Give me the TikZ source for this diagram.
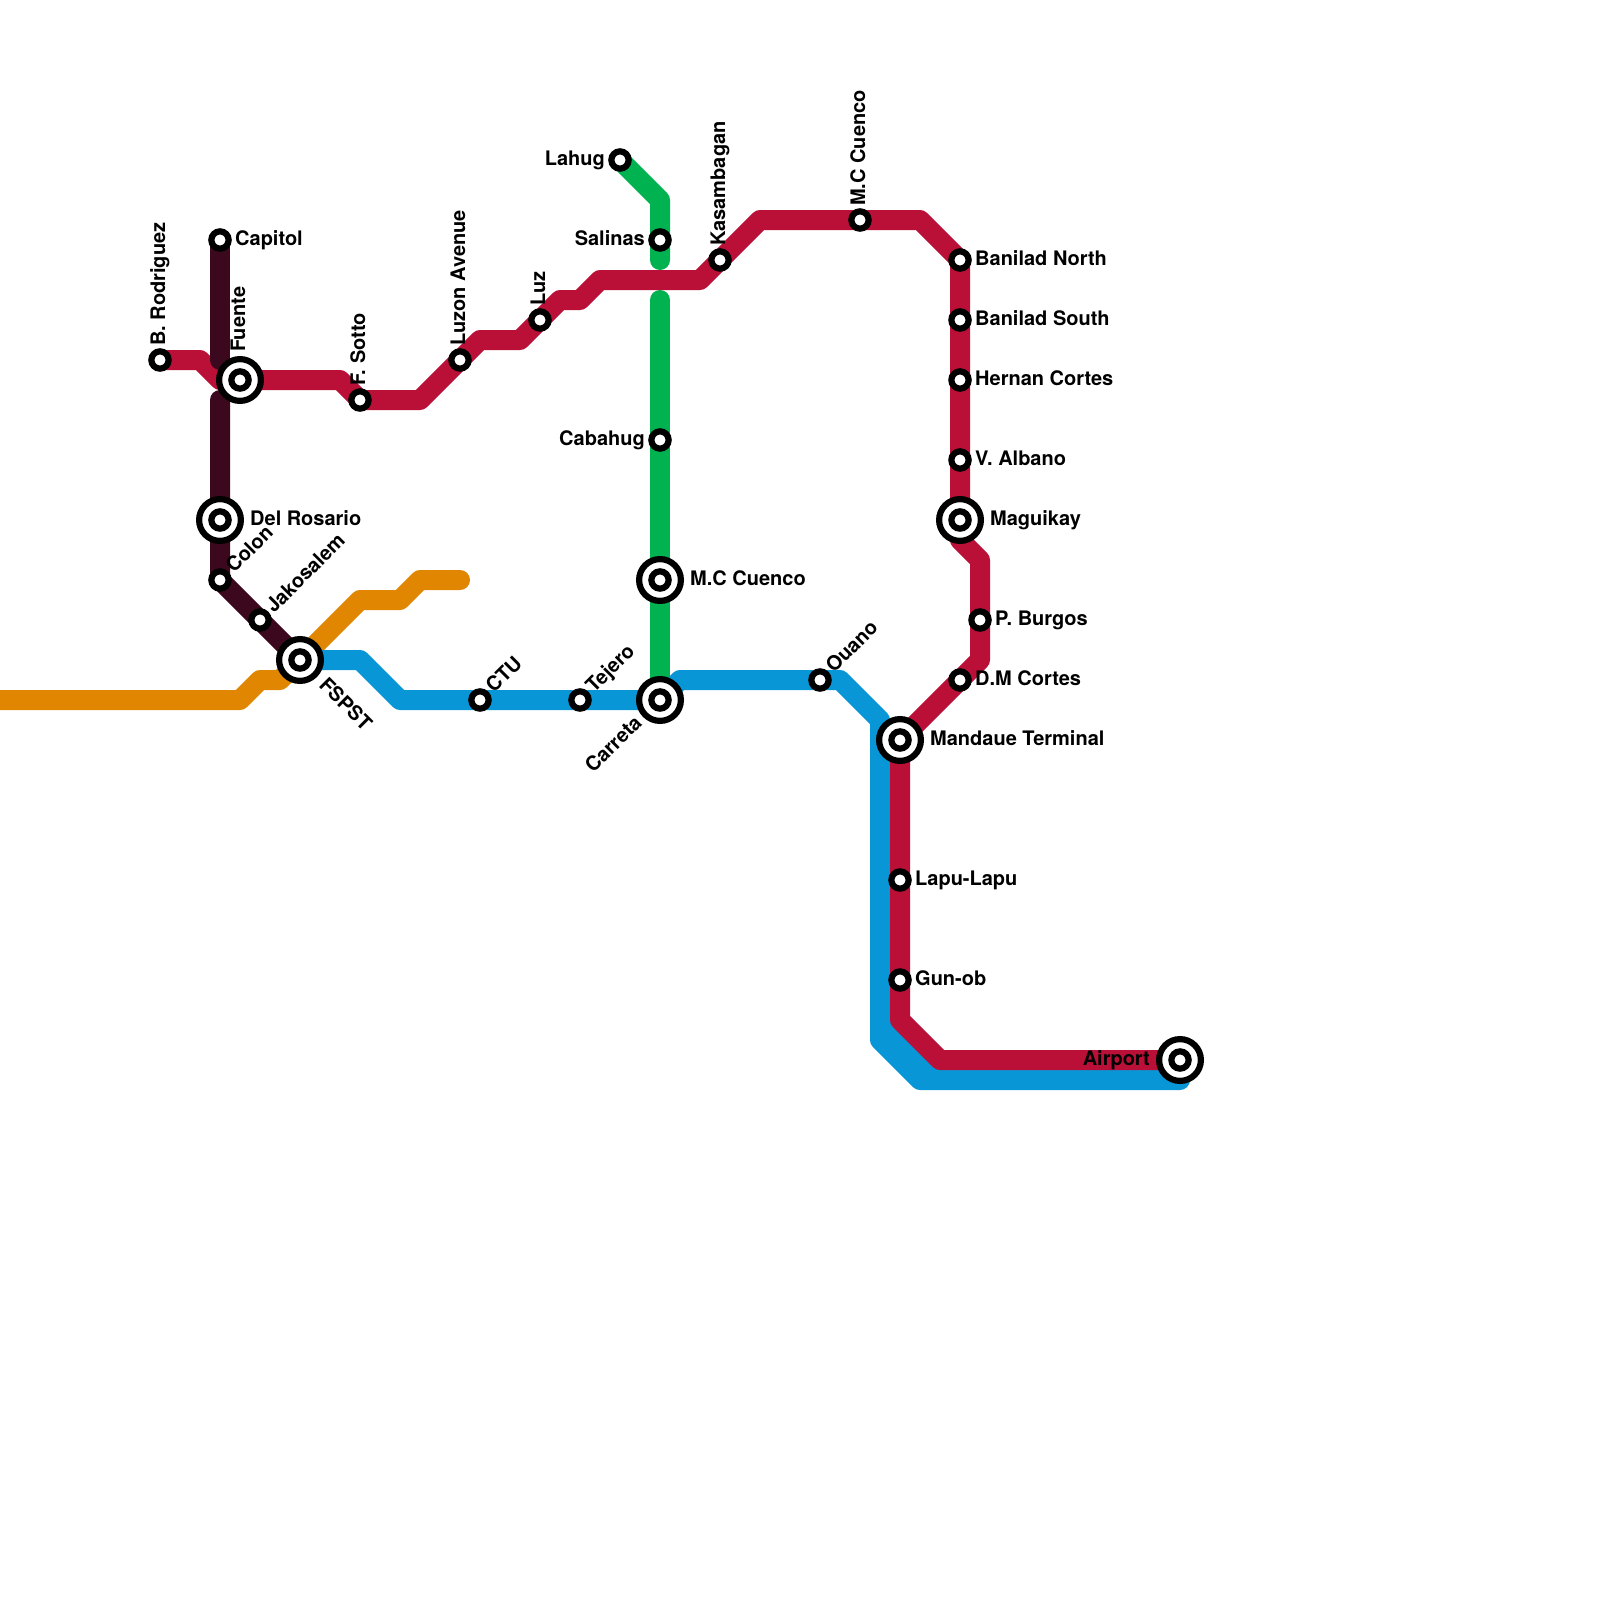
\documentclass[tikz,border=0pt]{standalone}
\usepackage{fontspec}
\setmainfont{TeX Gyre Heros}
\usetikzlibrary{backgrounds}
\definecolor{redline}{RGB}{186,16,56}
\definecolor{darkline}{RGB}{60,8,30}
\definecolor{greenline}{RGB}{0,178,80}
\definecolor{blueline}{RGB}{9,150,215}
\definecolor{orangeline}{RGB}{224,134,0}
\tikzset{
  stn/.style={circle,draw=black,fill=white,line width=6.2pt,minimum size=17.3pt,inner sep=0pt,outer sep=0pt},
  hub/.style={stn,minimum size=41.8pt,path picture={\draw[line width=6.2pt] (path picture bounding box.center) circle[radius=8.65pt];}},
  lab/.style={inner sep=0pt,text height=14.4pt,text depth=0pt,font=\fontsize{20}{22}\selectfont\bfseries},
  metro/.style={line width=20pt,line join=round,line cap=round}
}

\begin{document}
\begin{tikzpicture}[x=1pt,y=-1pt]
  \useasboundingbox (0,0) rectangle (1600,1600);
  \node[stn] (Cap) at (220,240) {};
  \node[stn] (BR) at (160,360) {};
  \node[hub] (Fu) at (240,380) {};
  \node[stn] (FS) at (360,400) {};
  \node[stn] (LA) at (460,360) {};
  \node[stn] (Lz) at (540,320) {};
  \node[stn] (Lh) at (620,160) {};
  \node[stn] (Sa) at (660,240) {};
  \node[stn] (Ka) at (720,260) {};
  \node[stn] (MA) at (860,220) {};
  \node[stn] (BN) at (960,260) {};
  \node[stn] (BS) at (960,320) {};
  \node[stn] (HC) at (960,380) {};
  \node[stn] (VA) at (960,460) {};
  \node[hub] (Ma) at (960,520) {};
  \node[stn] (PB) at (980,620) {};
  \node[stn] (DM) at (960,680) {};
  \node[hub] (MT) at (900,740) {};
  \node[stn] (LL) at (900,880) {};
  \node[stn] (GO) at (900,980) {};
  \node[hub] (Ai) at (1180,1060) {};
  \node[stn] (Cb) at (660,440) {};
  \node[hub] (MB) at (660,580) {};
  \node[hub] (Ca) at (660,700) {};
  \node[stn] (Te) at (580,700) {};
  \node[stn] (CT) at (480,700) {};
  \node[hub] (FP) at (300,660) {};
  \node[stn] (Ja) at (260,620) {};
  \node[stn] (Co) at (220,580) {};
  \node[hub] (DR) at (220,520) {};
  \node[stn] (Ou) at (820,680) {};
  \coordinate (DkN) at (220,360);
  \coordinate (DkS) at (220,400);
  \coordinate (GrN) at (660,260);
  \coordinate (GrS) at (660,300);
  \coordinate (OrW) at (0,700);
  \coordinate (OrE) at (460,580);
  \coordinate (BlA) at (880,1020);
  \coordinate (BlB) at (980,1060);
  \node[lab,anchor=west] (tCap) at (235,238) {Capitol};
  \node[lab,rotate=90,anchor=west] (tBR) at (158,346) {B. Rodriguez};
  \node[lab,rotate=90,anchor=west] (tFu) at (238,352) {Fuente};
  \node[lab,rotate=90,anchor=west] (tFS) at (358,386) {F. Sotto};
  \node[lab,rotate=90,anchor=west] (tLA) at (458,346) {Luzon Avenue};
  \node[lab,rotate=90,anchor=west] (tLz) at (538,306) {Luz};
  \node[lab,rotate=90,anchor=west] (tKa) at (718,246) {Kasambagan};
  \node[lab,rotate=90,anchor=west] (tMA) at (858,206) {M.C Cuenco};
  \node[lab,anchor=east] (tLh) at (605,158) {Lahug};
  \node[lab,anchor=east] (tSa) at (645,238) {Salinas};
  \node[lab,anchor=east] (tCb) at (645,438) {Cabahug};
  \node[lab,anchor=east] (tAi) at (1150,1058) {Airport};
  \node[lab,anchor=west] (tBN) at (975,258) {Banilad North};
  \node[lab,anchor=west] (tBS) at (975,318) {Banilad South};
  \node[lab,anchor=west] (tHC) at (975,378) {Hernan Cortes};
  \node[lab,anchor=west] (tVA) at (975,458) {V. Albano};
  \node[lab,anchor=west] (tMa) at (990,518) {Maguikay};
  \node[lab,anchor=west] (tPB) at (995,618) {P. Burgos};
  \node[lab,anchor=west] (tDM) at (975,678) {D.M Cortes};
  \node[lab,anchor=west] (tMT) at (930,738) {Mandaue Terminal};
  \node[lab,anchor=west] (tLL) at (915,878) {Lapu-Lapu};
  \node[lab,anchor=west] (tGO) at (915,978) {Gun-ob};
  \node[lab,anchor=west] (tMB) at (690,578) {M.C Cuenco};
  \node[lab,anchor=west] (tDR) at (250,518) {Del Rosario};
  \node[lab,rotate=45,anchor=west] (tCo) at (229,569) {Colon};
  \node[lab,rotate=45,anchor=west] (tJa) at (269,609) {Jakosalem};
  \node[lab,rotate=45,anchor=west] (tCT) at (489,689) {CTU};
  \node[lab,rotate=45,anchor=west] (tTe) at (589,689) {Tejero};
  \node[lab,rotate=45,anchor=west] (tOu) at (829,669) {Ouano};
  \node[lab,rotate=45,anchor=east] (tCa) at (638,719) {Carreta};
  \node[lab,rotate=-45,anchor=west] (tFP) at (323,681) {FSPST};
  \begin{pgfonlayer}{background}
    \draw[metro,orangeline] (OrW) -- (240,700) -- (260,680) -- (280,680) -- (FP.center) -- (360,600)
      -- (400,600) -- (420,580) -- (OrE);
    \draw[metro,greenline] (Lh.center) -- (660,200) -- (Sa.center) -- (GrN);
    \draw[metro,greenline] (GrS) -- (Cb.center) -- (MB.center) -- (Ca.center);
    \draw[metro,blueline] (FP.center) -- (360,660) -- (400,700) -- (CT.center) -- (Te.center) -- (Ca.center)
      -- (680,680) -- (Ou.center) -- (840,680) -- (880,720) -- (880,1040) -- (920,1080) -- (1180,1080) -- (Ai.center);
    \draw[metro,blueline] (BlA) -- (920,1060) -- (BlB);
    \draw[metro,redline] (BR.center) -- (200,360) -- (220,380) -- (Fu.center) -- (340,380) -- (FS.center)
      -- (420,400) -- (LA.center) -- (480,340) -- (520,340) -- (Lz.center) -- (560,300) -- (580,300)
      -- (600,280) -- (700,280) -- (Ka.center) -- (760,220) -- (MA.center) -- (920,220) -- (BN.center)
      -- (BS.center) -- (HC.center) -- (VA.center) -- (Ma.center) -- (960,540) -- (980,560) -- (PB.center)
      -- (980,660) -- (DM.center) -- (MT.center) -- (LL.center) -- (GO.center) -- (900,1020) -- (940,1060) -- (Ai.center);
    \draw[metro,darkline] (Cap.center) -- (DkN);
    \draw[metro,darkline] (DkS) -- (DR.center) -- (Co.center) -- (Ja.center) -- (FP.center);
  \end{pgfonlayer}
\end{tikzpicture}
\end{document}
